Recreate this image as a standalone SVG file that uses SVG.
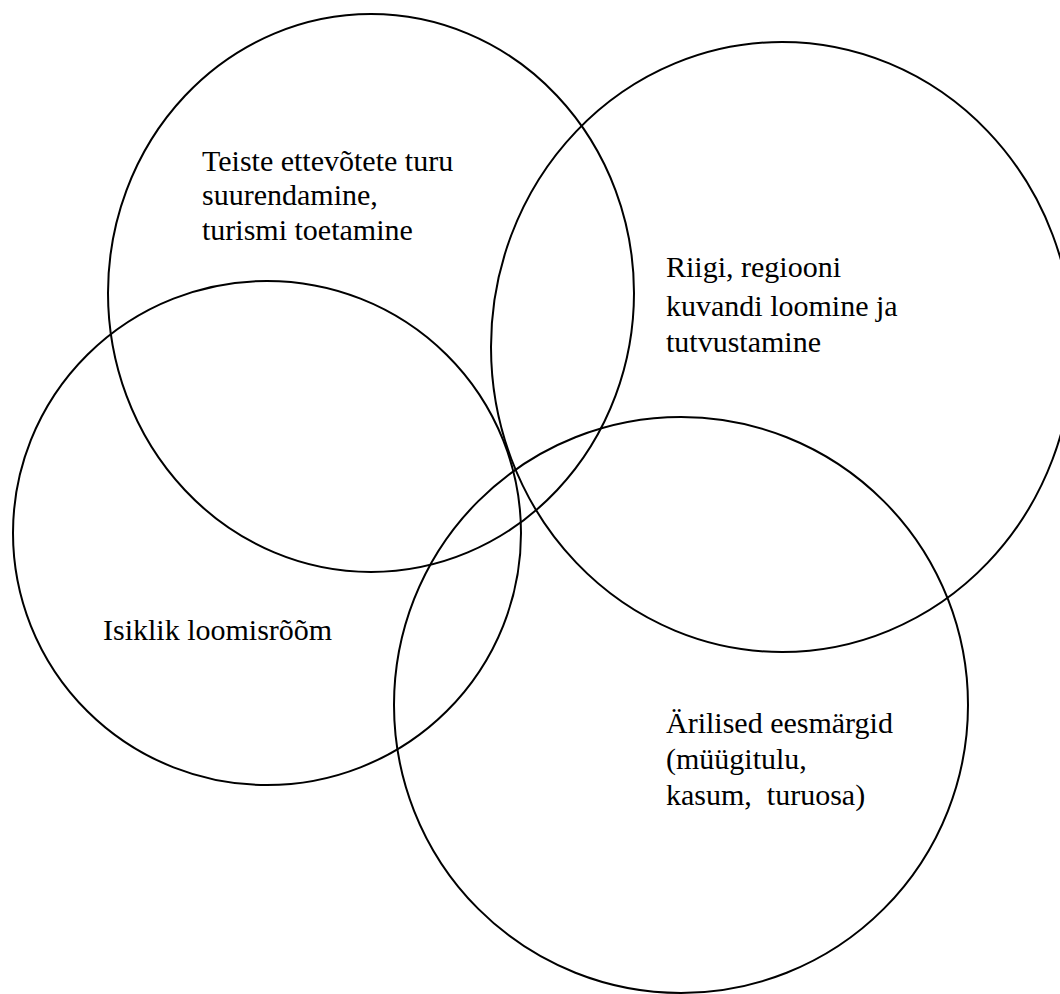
<svg xmlns="http://www.w3.org/2000/svg" width="1060" height="994" viewBox="0 0 1060 994">
<style>
.c{fill:none;stroke:#000;stroke-width:2}
.t{font-family:"Liberation Serif","Times New Roman",serif;font-size:30px;fill:#000}
</style>
<rect width="1060" height="994" fill="#fff"/>
<g id="e1"><ellipse class="c" cx="371" cy="293" rx="263" ry="279"/>
<text class="t"><tspan x="202" y="171">Teiste ettevõtete turu</tspan><tspan x="202" y="205">suurendamine,</tspan><tspan x="202" y="240">turismi toetamine</tspan></text></g>
<g id="e2"><ellipse class="c" cx="782" cy="347" rx="291" ry="305"/>
<text class="t"><tspan x="666" y="277">Riigi, regiooni</tspan><tspan x="666" y="316">kuvandi loomine ja</tspan><tspan x="666" y="352">tutvustamine</tspan></text></g>
<g id="e3"><ellipse class="c" cx="267" cy="533" rx="254" ry="252"/>
<text class="t" x="103" y="640">Isiklik loomisrõõm</text></g>
<g id="e4"><ellipse class="c" cx="681" cy="705" rx="287" ry="288"/>
<text class="t"><tspan x="666" y="733">Ärilised eesmärgid</tspan><tspan x="666" y="769">(müügitulu,</tspan><tspan x="666" y="805" xml:space="preserve">kasum,  turuosa)</tspan></text></g>
</svg>
